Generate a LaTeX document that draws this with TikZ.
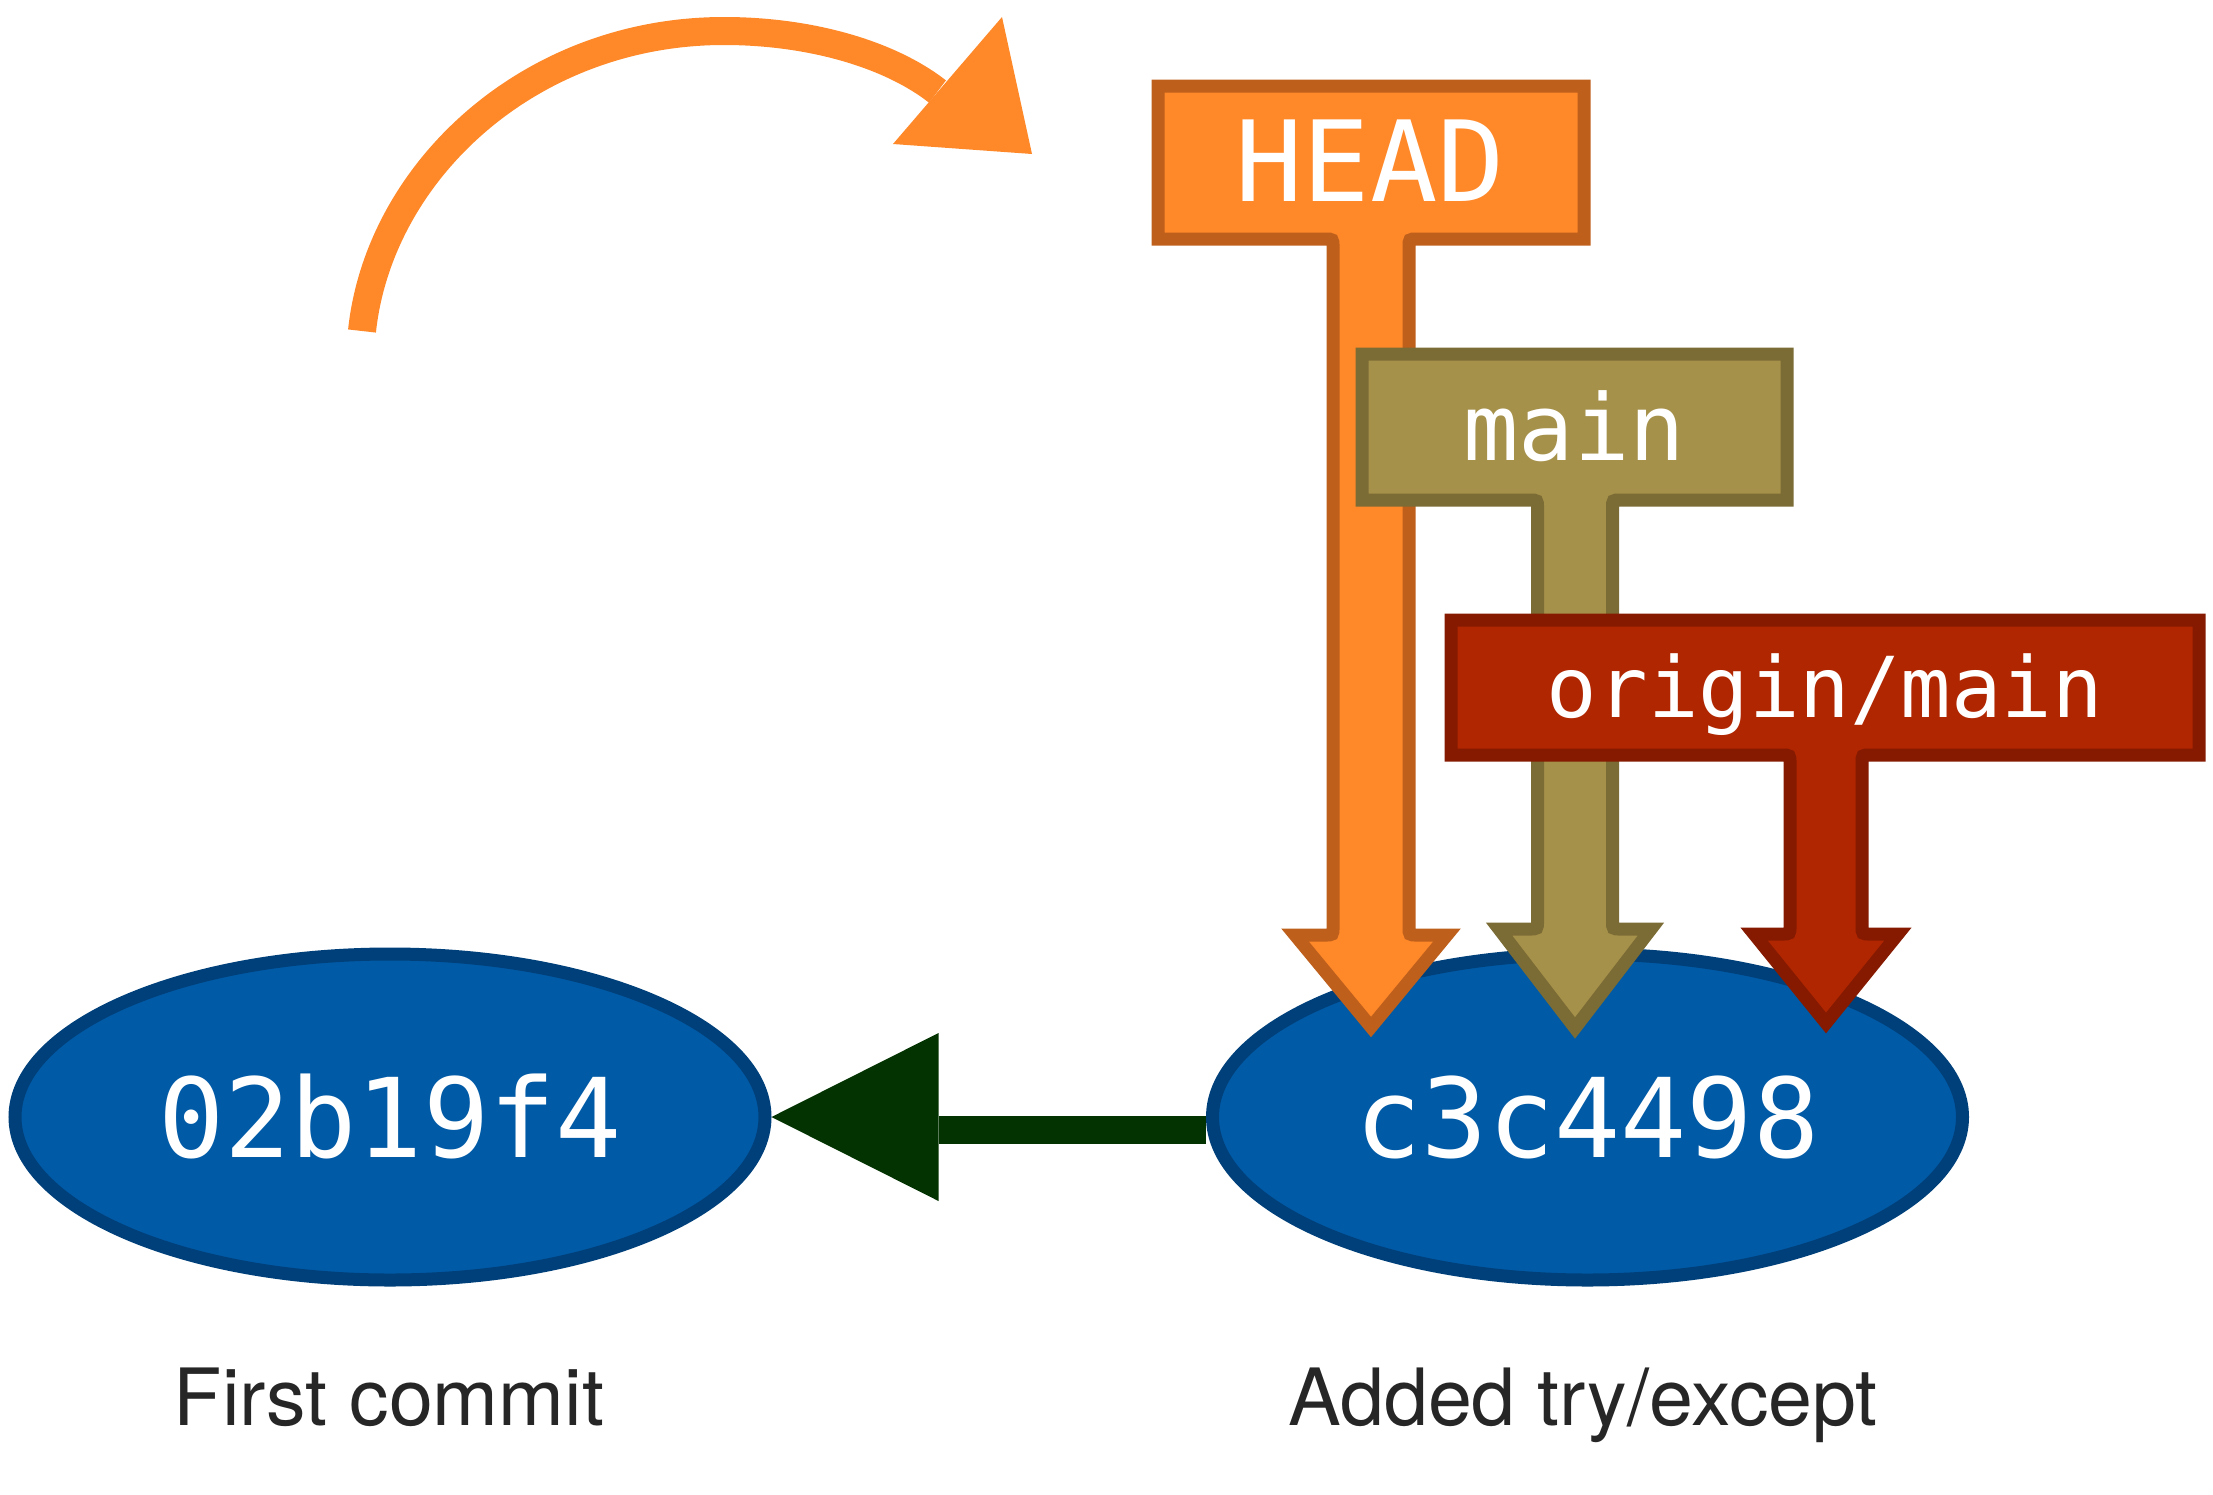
\documentclass[tikz,border=0pt]{standalone}
\usepackage{fontspec}
\newfontfamily\monofont{DejaVu Sans Mono}
\newfontfamily\captionfont{TeX Gyre Heros}
\usetikzlibrary{shapes.geometric,calc}

\definecolor{commitfill}{RGB}{0,90,166}
\definecolor{commitline}{RGB}{0,64,122}
\definecolor{headfill}{RGB}{255,136,41}
\definecolor{headline}{RGB}{190,96,28}
\definecolor{mainfill}{RGB}{166,145,75}
\definecolor{mainline}{RGB}{123,107,52}
\definecolor{originfill}{RGB}{176,38,0}
\definecolor{originline}{RGB}{133,26,0}
\definecolor{parentgreen}{RGB}{3,51,0}
\definecolor{captiongray}{RGB}{38,38,38}

% T-shaped ref pointer: label box on top, stem, arrow head at the bottom.
% #1 left  #2 top  #3 right  #4 box bottom  #5 stem centre x  #6 stem half width
% #7 flare y  #8 flare half width  #9 tip y
\newcommand\refpointer[9]{%
  \draw[pointer] (#1,#2) -- (#3,#2) -- (#3,#4)
    -- ({#5+#6+8},#4) .. controls ({#5+#6},#4) .. ({#5+#6},{#4+8})
    -- ({#5+#6},{#7-8}) .. controls ({#5+#6},#7) .. ({#5+#6+8},#7)
    -- ({#5+#8},#7) -- (#5,#9) -- ({#5-#8},#7)
    -- ({#5-#6-8},#7) .. controls ({#5-#6},#7) .. ({#5-#6},{#7-8})
    -- ({#5-#6},{#4+8}) .. controls ({#5-#6},#4) .. ({#5-#6-8},#4)
    -- (#1,#4) -- cycle;}

\begin{document}
\begin{tikzpicture}[x=1pt,y=-1pt,
  commit/.style={ellipse, draw=commitline, fill=commitfill, line width=13pt,
    minimum width=750pt, minimum height=326pt, inner sep=0pt, text=white,
    font=\monofont\fontsize{110}{110}\selectfont, text height=80pt, text depth=0pt},
  pointer/.style={draw=ptrline, fill=ptrfill, line width=13pt, line join=miter},
  ptrlabel/.style={text=white, inner sep=0pt, anchor=base},
  caption/.style={text=captiongray, inner sep=0pt, anchor=base,
    font=\captionfont\fontsize{79}{79}\selectfont},
  parent/.style={draw=parentgreen, line width=28pt},
  moved/.style={draw=headfill, line width=28pt}]

\useasboundingbox (0,0) rectangle (2213,1494);

% curved arrow: HEAD moving forward
\coordinate (movestart) at (362,331);
\coordinate (movetop) at (724,31);
\coordinate (movetip) at (1032,154);
\draw[moved] (movestart) .. controls (379,172) and (529,31) .. (movetop)
  arc[start angle=-90, end angle=-34.8, x radius=260, y radius=141];
\fill[headfill] (1002,17) -- (movetip) -- (893,144) -- cycle;

% commits
\node[commit] (c0) at (390,1117) {02b19f4};
\node[commit] (c1) at (1587.5,1117) {c3c4498};

% parent link
\draw[parent] ($(c1.west)+(0,13)$) -- ($(c0.east)+(167,13)$);
\fill[parentgreen] (c0.east) -- ++(167,-84) -- ++(0,168) -- cycle;

% ref pointers
\colorlet{ptrfill}{headfill}\colorlet{ptrline}{headline}
\refpointer{1158}{86}{1584}{239}{1371}{38}{935}{76}{1027}
\node[ptrlabel, font=\monofont\fontsize{112}{112}\selectfont] (head) at (1370,201) {HEAD};

\colorlet{ptrfill}{mainfill}\colorlet{ptrline}{mainline}
\refpointer{1362}{354}{1787}{500}{1575}{37.5}{929}{76}{1028}
\node[ptrlabel, font=\monofont\fontsize{92}{92}\selectfont] (main) at (1574,460) {main};

\colorlet{ptrfill}{originfill}\colorlet{ptrline}{originline}
\refpointer{1451}{620}{2199}{755}{1826}{36}{934}{72}{1023}
\node[ptrlabel, font=\monofont\fontsize{84}{84}\selectfont] (origin) at (1825,717) {origin/main};

% commit messages
\node[caption] (msg0) at (389,1425) {First commit};
\node[caption] (msg1) at (1583,1425) {Added try/except};
\end{tikzpicture}
\end{document}
